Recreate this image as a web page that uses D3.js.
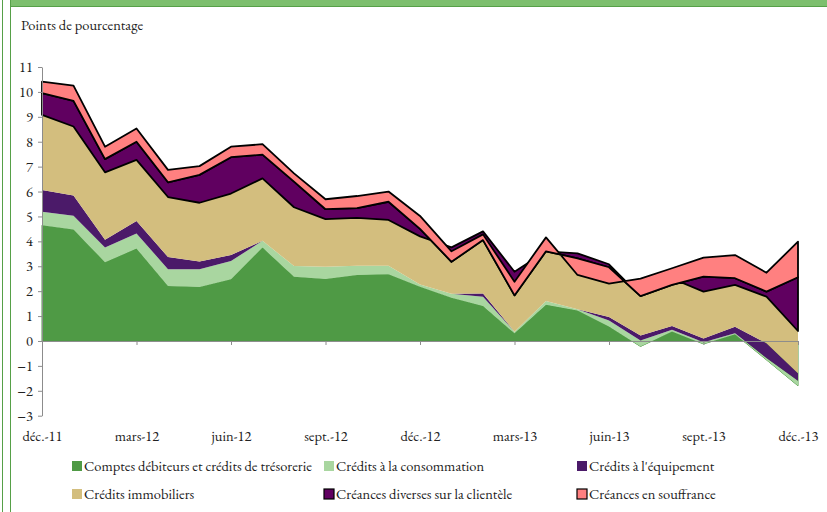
<!DOCTYPE html>
<html lang="fr">
<head>
<meta charset="UTF-8" />
<title>Contributions à la croissance des crédits</title>
<script src="https://d3js.org/d3.v7.min.js"></script>
<style>
    body {
        margin: 0;
        background: #fff;
    }

    svg {
        display: block;
    }

    .axis path,
    .axis line {
        stroke: #8c8c8c;
    }
</style>
</head>
<body>
<svg id="chart" width="827" height="512"></svg>
<script>
    const police = "EB Garamond, Liberation Serif, serif";
    const taille = 14.5;

    // Mois (décembre 2011 - décembre 2013)
    const mois = ["déc.-11", "janv.-12", "févr.-12", "mars-12", "avr.-12", "mai-12", "juin-12", "juil.-12",
        "août-12", "sept.-12", "oct.-12", "nov.-12", "déc.-12", "janv.-13", "févr.-13", "mars-13", "avr.-13",
        "mai-13", "juin-13", "juil.-13", "août-13", "sept.-13", "oct.-13", "nov.-13", "déc.-13"];
    const moisAffiches = ["déc.-11", "mars-12", "juin-12", "sept.-12", "déc.-12", "mars-13", "juin-13", "sept.-13", "déc.-13"];
    const graduationsY = [-3, -2, -1, 0, 1, 2, 3, 4, 5, 6, 7, 8, 9, 10, 11];

    // Contributions (points de pourcentage)
    const comptesDebiteurs = [4.65, 4.48, 3.16, 3.71, 2.21, 2.17, 2.48, 3.75, 2.58, 2.49, 2.65, 2.68, 2.18,
        1.74, 1.40, 0.31, 1.45, 1.22, 0.58, -0.22, 0.38, -0.12, 0.27, -0.76, -1.80];
    const creditsConsommation = [0.54, 0.55, 0.59, 0.61, 0.67, 0.71, 0.73, 0.27, 0.43, 0.49, 0.37, 0.34, 0.09,
        0.16, 0.38, 0.06, 0.16, 0.05, 0.24, 0.24, 0.07, 0.07, 0.04, 0.08, 0.20];
    const creditsEquipement = [0.87, 0.81, 0.31, 0.50, 0.49, 0.31, 0.24, 0, 0, 0, 0, 0, 0,
        0, 0.13, 0, 0, 0, 0.14, 0.20, 0.15, 0.15, 0.26, 0.59, 0.30];
    const creditsImmobiliers = [3.02, 2.77, 2.71, 2.45, 2.41, 2.36, 2.47, 2.51, 2.36, 1.91, 1.92, 1.84, 1.93,
        1.86, 2.49, 2.41, 1.99, 2.25, 2.12, 1.58, 1.91, 1.88, 1.68, 1.87, 1.70];
    const creancesDiverses = [0.87, 1.03, 0.53, 0.73, 0.59, 1.12, 1.46, 0.95, 1.03, 0.40, 0.39, 0.73, 0.30,
        -0.58, -0.35, -0.95, 0, -0.20, -0.12, 0, -0.26, 0.60, 0.27, 0.20, 2.16];
    const creancesSouffrance = [0.46, 0.61, 0.50, 0.53, 0.50, 0.35, 0.42, 0.42, 0.33, 0.40, 0.49, 0.41, 0.52,
        0.42, 0.23, 0.55, 0.56, -0.67, -0.66, 0.70, 0.67, 0.77, 0.93, 0.76, 1.43];

    const noms = ["Comptes débiteurs et crédits de trésorerie", "Crédits à la consommation", "Crédits à l'équipement",
        "Crédits immobiliers", "Créances diverses sur la clientèle", "Créances en souffrance"];
    const couleurs = ["#4f9a45", "#a9d6a0", "#4b1a69", "#d3be7e", "#600060", "#ff8080"];
    const valeurs = [comptesDebiteurs, creditsConsommation, creditsEquipement, creditsImmobiliers, creancesDiverses, creancesSouffrance];

    const svg = d3.select("#chart");

    // cadre vert
    svg.append("rect").attr("x", 10).attr("y", 0).attr("width", 817).attr("height", 6).attr("fill", "#7dbf6e");
    svg.append("line").attr("x1", 10).attr("x2", 827).attr("y1", 6.5).attr("y2", 6.5).attr("stroke", "#56a048");
    svg.append("line").attr("x1", 2.5).attr("x2", 2.5).attr("y1", 0).attr("y2", 512).attr("stroke", "#56a048");
    svg.append("line").attr("x1", 10.5).attr("x2", 10.5).attr("y1", 0).attr("y2", 512).attr("stroke", "#56a048");

    svg.append("text").attr("x", 21).attr("y", 30)
        .attr("font-family", police).attr("font-size", taille).attr("fill", "#222")
        .text("Points de pourcentage");

    const x = d3.scaleLinear().domain([0, mois.length - 1]).range([42, 798]);
    const y = d3.scaleLinear().domain([-3, 11]).range([415.7, 67]);

    // table pour d3.stack (empilement cumulé, comme Excel)
    const lignes = mois.map((m, i) => {
        const o = { mois: m };
        noms.forEach((n, k) => o[n] = valeurs[k][i]);
        return o;
    });
    const pile = d3.stack().keys(noms).offset(d3.stackOffsetNone)(lignes);

    const aire = d3.area()
        .x((d, i) => x(i))
        .y0(d => y(d[0]))
        .y1(d => y(d[1]));

    svg.append("g").selectAll("path")
        .data(pile)
        .join("path")
        .attr("d", aire)
        .attr("fill", (d, k) => couleurs[k])
        .attr("stroke", (d, k) => k >= 4 ? "#000" : (k === 0 ? couleurs[0] : "none"))
        .attr("stroke-width", (d, k) => k >= 4 ? 1.8 : 1)
        .attr("stroke-linejoin", "round");

    // axe Y
    svg.append("g")
        .attr("class", "axis")
        .attr("transform", "translate(42,0)")
        .call(d3.axisLeft(y).tickValues(graduationsY).tickSize(4).tickPadding(5).tickSizeOuter(0).tickFormat(d3.format("d")))
        .call(g => g.selectAll("text").attr("font-family", police).attr("font-size", taille).attr("fill", "#222"));

    // axe X au niveau du zéro, étiquettes en bas
    const indTicks = moisAffiches.map(m => mois.indexOf(m));
    svg.append("g")
        .attr("class", "axis")
        .attr("transform", `translate(0,${y(0)})`)
        .call(d3.axisBottom(x).tickValues(indTicks).tickSize(4).tickSizeOuter(0).tickFormat(""));
    svg.append("g")
        .attr("class", "axis")
        .attr("transform", "translate(0,431)")
        .call(d3.axisBottom(x).tickValues(indTicks).tickSize(0).tickPadding(0).tickFormat(i => mois[i]))
        .call(g => g.select(".domain").remove())
        .call(g => g.selectAll("text").attr("font-family", police).attr("font-size", taille).attr("fill", "#222"));

    // légende
    const legende = svg.append("g").attr("font-family", police).attr("font-size", taille).attr("fill", "#222");
    const colX = [72, 324, 577], rowY = [466, 494];
    noms.forEach((n, k) => {
        const lx = colX[k % 3], ly = rowY[Math.floor(k / 3)];
        legende.append("rect")
            .attr("x", lx).attr("y", ly - 5).attr("width", 10).attr("height", 10)
            .attr("fill", couleurs[k])
            .attr("stroke", k >= 4 ? "#000" : "none").attr("stroke-width", 1.2);
        legende.append("text").attr("x", lx + 12).attr("y", ly + 4.5).text(n);
    });
</script>
</body>
</html>
